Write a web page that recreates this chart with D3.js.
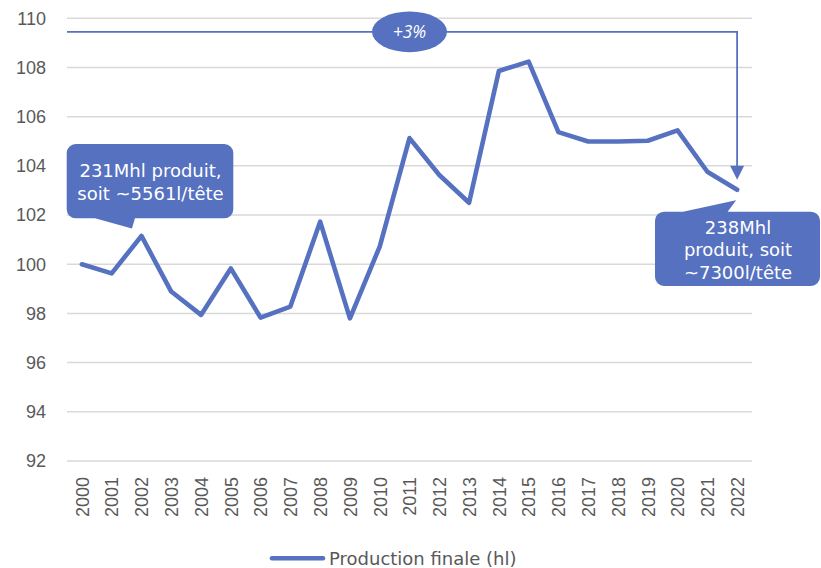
<!DOCTYPE html>
<html>
<head>
<meta charset="utf-8">
<script src="https://cdn.jsdelivr.net/npm/d3@7"></script>
<style>
  html, body { margin: 0; padding: 0; background: #ffffff; }
  svg { display: block; }
</style>
</head>
<body>
<div id="chart"></div>
<script>
// Production finale (hl), indice base 100 en 2000
const years = ["2000","2001","2002","2003","2004","2005","2006","2007","2008","2009","2010",
               "2011","2012","2013","2014","2015","2016","2017","2018","2019","2020","2021","2022"];
const production = [100.0, 99.63, 101.15, 98.89, 97.94, 99.83, 97.83, 98.28, 101.73, 97.8, 100.72,
                    105.13, 103.63, 102.5, 107.86, 108.24, 105.37, 104.99, 104.99, 105.02, 105.44, 103.76, 103.03];
const yTicks = [92, 94, 96, 98, 100, 102, 104, 106, 108, 110];
const seriesName = "Production finale (hl)";
const evolutionLabel = "+3%";
const startNote = ["231Mhl produit,", "soit ~5561l/tête"];
const endNote = ["238Mhl", "produit, soit", "~7300l/tête"];

const W = 821, H = 568;
const blue = "#5571c0";
const grey = "#595959";
const uiFont = "'DejaVu Sans', 'Noto Sans', sans-serif";
const tagFont = "'Open Sans', 'Noto Sans', sans-serif";
const tickFont = "'Liberation Sans', Arial, sans-serif";

const svg = d3.select("#chart").append("svg")
  .attr("width", W).attr("height", H);

const x = d3.scalePoint().domain(years).range([67, 752]).padding(0.5);
const y = d3.scaleLinear().domain([92, 110]).range([461, 18.3]);

// grid lines
svg.append("g").selectAll("line").data(yTicks).join("line")
  .attr("x1", 67).attr("x2", 752)
  .attr("y1", d => y(d)).attr("y2", d => y(d))
  .attr("stroke", "#d9d9d9").attr("stroke-width", 1.5);

// y axis labels
const yAxis = svg.append("g")
  .attr("transform", "translate(46,0)")
  .call(d3.axisLeft(y).tickValues(yTicks).tickSize(0).tickPadding(0));
yAxis.select(".domain").remove();
yAxis.selectAll("text")
  .attr("font-family", tickFont).attr("font-size", 18).attr("fill", grey);

// x axis labels (rotated)
const xAxis = svg.append("g")
  .attr("transform", "translate(0,477)")
  .call(d3.axisBottom(x).tickSize(0).tickPadding(0));
xAxis.select(".domain").remove();
xAxis.selectAll("text")
  .attr("font-family", tickFont).attr("font-size", 18).attr("fill", grey)
  .attr("text-anchor", "end")
  .attr("transform", "rotate(-90)")
  .attr("x", 0).attr("y", 0).attr("dy", "0.35em");

// evolution bracket from the left edge to 2022
const bracketY = y(109.45);
const xEnd = x("2022");
const arrowTip = y(production[production.length - 1]) - 10;
svg.append("path")
  .attr("d", `M67,${bracketY}H${xEnd}V${arrowTip - 12}`)
  .attr("fill", "none").attr("stroke", blue).attr("stroke-width", 1.8);
svg.append("path")
  .attr("d", `M${xEnd - 7},${arrowTip - 14}L${xEnd + 7},${arrowTip - 14}L${xEnd},${arrowTip}Z`)
  .attr("fill", blue);

// the series line
const line = d3.line()
  .x((d, i) => x(years[i]))
  .y(d => y(d));
svg.append("path")
  .datum(production)
  .attr("d", line)
  .attr("fill", "none")
  .attr("stroke", blue)
  .attr("stroke-width", 4.6)
  .attr("stroke-linejoin", "round")
  .attr("stroke-linecap", "round");

// +3% bubble
const bx = x("2011");
svg.append("ellipse")
  .attr("cx", bx).attr("cy", bracketY).attr("rx", 37.5).attr("ry", 20.3)
  .attr("fill", blue);
svg.append("text")
  .attr("x", bx).attr("y", bracketY).attr("dy", "0.35em")
  .attr("text-anchor", "middle")
  .attr("font-family", tagFont).attr("font-style", "italic")
  .attr("font-size", 17.5).attr("fill", "#ffffff")
  .text(evolutionLabel);

// rounded box with a pointer
function callout(x0, y0, x1, y1, r, tail) {
  const p = d3.path();
  p.moveTo(x0 + r, y0);
  if (tail.side === "top") {
    p.lineTo(tail.a, y0); p.lineTo(tail.tx, tail.ty); p.lineTo(tail.b, y0);
  }
  p.lineTo(x1 - r, y0);
  p.arcTo(x1, y0, x1, y0 + r, r);
  p.lineTo(x1, y1 - r);
  p.arcTo(x1, y1, x1 - r, y1, r);
  if (tail.side === "bottom") {
    p.lineTo(tail.b, y1); p.lineTo(tail.tx, tail.ty); p.lineTo(tail.a, y1);
  }
  p.lineTo(x0 + r, y1);
  p.arcTo(x0, y1, x0, y1 - r, r);
  p.lineTo(x0, y0 + r);
  p.arcTo(x0, y0, x0 + r, y0, r);
  p.closePath();
  return p.toString();
}

// start note, pointing at 2002
const p2002 = { x: x("2002"), y: y(production[2]) };
svg.append("path")
  .attr("d", callout(66.7, 144, 233.3, 218.3, 9,
        { side: "bottom", a: 95, b: p2002.x - 6.5, tx: p2002.x - 9.5, ty: p2002.y - 7.5 }))
  .attr("fill", blue);
svg.append("text")
  .attr("font-family", uiFont).attr("font-size", 18).attr("fill", "#ffffff")
  .attr("text-anchor", "middle")
  .selectAll("tspan").data(startNote).join("tspan")
  .attr("x", 150.5).attr("y", (d, i) => 176.5 + i * 23.3)
  .text(d => d);

// end note, pointing at 2022
const p2022 = { x: x("2022"), y: y(production[22]) };
svg.append("path")
  .attr("d", callout(655, 211.7, 820, 286, 9,
        { side: "top", a: 683, b: p2022.x - 9.5, tx: p2022.x - 1, ty: p2022.y + 10.5 }))
  .attr("fill", blue);
svg.append("text")
  .attr("font-family", uiFont).attr("font-size", 18).attr("fill", "#ffffff")
  .attr("text-anchor", "middle")
  .selectAll("tspan").data(endNote).join("tspan")
  .attr("x", 738).attr("y", (d, i) => 233.5 + i * 22.5)
  .text(d => d);

// legend
svg.append("line")
  .attr("x1", 272).attr("x2", 323).attr("y1", 558.3).attr("y2", 558.3)
  .attr("stroke", blue).attr("stroke-width", 4.6).attr("stroke-linecap", "round");
svg.append("text")
  .attr("x", 329).attr("y", 564.5)
  .attr("font-family", uiFont).attr("font-size", 18).attr("fill", grey)
  .text(seriesName);
</script>
</body>
</html>
